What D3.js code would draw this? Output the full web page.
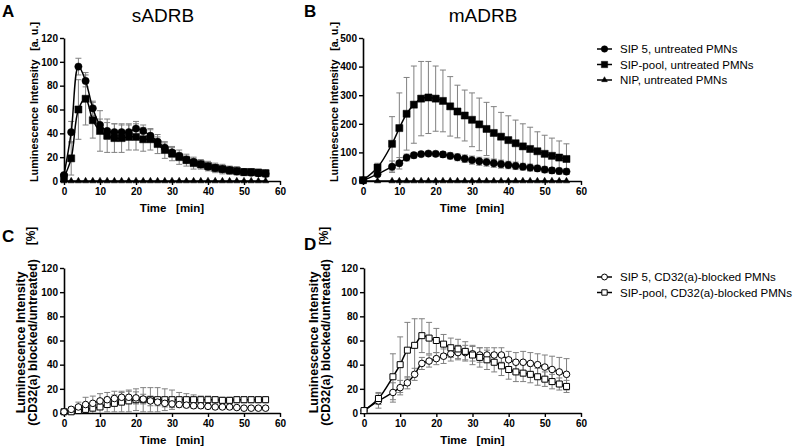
<!DOCTYPE html>
<html><head><meta charset="utf-8">
<script src="https://cdn.jsdelivr.net/npm/d3@7/dist/d3.min.js"></script>
<style>
body{margin:0;background:#fff;}
svg{font-family:"Liberation Sans",Arial,sans-serif;}
text{white-space:pre;}
</style></head>
<body><svg id="c" width="799" height="447"></svg>
<script>
// ---------- data ----------
const timesA = [0,2,4,6,8,10,12,14,16,18,20,22,24,26,28,30,32,34,36,38,40,42,44,46,48,50,52,54,56];
const timesB = [0,4,8,10,12,14,16,18,20,22,24,26,28,30,32,34,36,38,40,42,44,46,48,50,52,54,56];
const xTicks = [0,10,20,30,40,50,60];
const yTicksA = [0,20,40,60,80,100,120];
const yTicksB = [0,100,200,300,400,500];
const yTicksCD = [0,20,40,60,80,100,120];

// panel A (sADRB, untreated)
const sip5A   = [5,41,96,84,61,47,42,41,41,41,44,42,38,33,28,24,21,18,16,14,12,11,10,9,8,7.5,7,6.5,6];
const sdSip5A = [2,9,7,5,6,5,7,7,6,6,6,5,5,4,4,4,3,3,3,3,2.5,2.5,2,2,2,2,1.5,1.5,1.5];
const poolA   = [3,19,60,69,51,42,38,36,36,37,37,35,35,31,26,23,20,17.5,15,14,12.5,11,10,9,8.5,7.5,7.5,7,6.5];
const sdPoolA = [2,14,25,22,15,17,14,12,12,11,11,10,9,8,7,6,6,5,5,4,4,4,4,3.5,3.5,3,3,3,3];
const nipA    = [0,0,0,0,0,0,0,0,0,0,0,0,0,0,0,0,0,0,0,0,0,0,0,0,0,0,0,0,0];

// panel B (mADRB, untreated)
const poolB   = [3,47,130,185,235,267,288,292,288,280,261,243,229,214,198,182,168,155,143,132,121,112,104,95,88,82,77];
const sdPoolB = [3,15,95,123,127,135,130,126,114,108,104,92,89,94,92,93,92,85,85,81,79,76,68,65,62,58,53];
const sip5B   = [2,24,50,62,82,90,94,96,95,93,88,83,78,73,69,66,62,59,56,53,50,47,44,40,37,35,33];
const sdSip5B = [2,8,20,20,12,10,8,8,9,10,11,12,13,14,14,14,14,14,13,13,12,12,11,11,10,10,10];
const nipB    = [0,0,0,0,0,0,0,0,0,0,0,0,0,0,0,0,0,0,0,0,0,0,0,0,0,0,0];

// panel C (sADRB, CD32(a)-blocked / untreated)
const sip5C   = [1,3,5,7,8,10,11,12,13,13,12.5,11.5,10,9,8,7.5,7,6.5,6,6,5.5,5,5,5,4.5,4,4,4,4];
const sdSip5C = [1,2,4,6,6,6,6,6,5,5,5,4,4,3,3,3,2,2,2,2,2,1.5,1.5,1.5,1.5,1.5,1.5,1.5,1.5];
const poolC   = [1,1,2,3,4,5,7,8,9,10,11,11,11,11,11,11,11,11,11,11,11,11,10.5,10.5,11,11,11,11,11];
const sdPoolC = [1,1,2,3,4,5,6,7,8,9,9,10,10,10,9,8,6,5,4,3,3,2.5,2.5,2.5,2.5,2.5,2.5,2.5,2.5];

// panel D (mADRB, CD32(a)-blocked / untreated)
const poolD   = [2,12,30,40,52,56,64,62,60,57,54,53,51,48,46,44,42,39,36,34,33,32,30,28,26,24,22];
const sdPoolD = [2,5,19,23,23,22,14,13,10,8,8,8,8,8,8,8,8,8,8,8,7,7,7,6,6,5,5];
const sip5D   = [2,10,17,21,25,32,41,43,45,47,49,50,50,49,48,48,48,48,44,42,42,41,40,38,36,34,32];
const sdSip5D = [2,6,8,6,5,5,5,5,5,6,6,6,6,6,6,6,6,6,7,8,9,9,9,10,11,12,13];

const legendTop = ["SIP 5, untreated PMNs","SIP-pool, untreated PMNs","NIP, untreated PMNs"];
const legendBottom = ["SIP 5, CD32(a)-blocked PMNs","SIP-pool, CD32(a)-blocked PMNs"];

// ---------- drawing ----------
const svg = d3.select("#c");
const ERR = "#808080";

const symDefs = {
  circle:   {type:d3.symbolCircle, size:42, fill:"#000"},
  square:   {type:d3.symbolSquare, size:50, fill:"#000"},
  triangle: {type:d3.symbolTriangle, size:18, fill:"#000"},
  ocircle:  {type:d3.symbolCircle, size:34, fill:"#fff"},
  osquare:  {type:d3.symbolSquare, size:36, fill:"#fff"}
};

function panel(cfg){
  const x = d3.scaleLinear().domain([0,60]).range(cfg.xr);
  const y = d3.scaleLinear().domain(cfg.yd).range(cfg.yr);
  const g = svg.append("g");

  const ax = g.append("g").attr("transform",`translate(0,${cfg.yr[0]})`)
    .call(d3.axisBottom(x).tickValues(xTicks).tickSize(4).tickSizeOuter(0).tickPadding(3));
  const ay = g.append("g").attr("transform",`translate(${cfg.xr[0]},0)`)
    .call(d3.axisLeft(y).tickValues(cfg.yt).tickSize(4).tickSizeOuter(0).tickPadding(2));
  [ax,ay].forEach(a=>{
    a.select(".domain").attr("stroke","#000").attr("stroke-width",1.6);
    a.selectAll(".tick line").attr("stroke","#000").attr("stroke-width",1.4);
    a.selectAll(".tick text").attr("font-size",10).attr("font-weight","bold").attr("fill","#000")
      .attr("font-family","'Liberation Sans',Arial,sans-serif");
  });

  const line = d3.line().x(d=>x(d[0])).y(d=>y(d[1])).curve(d3.curveCatmullRom.alpha(0.5));

  cfg.series.forEach(s=>{
    if(!s.sd) return;
    s.t.forEach((t,i)=>{
      const v = s.v[i], e = s.sd[i];
      const lo = Math.max(cfg.yd[0], v-e), hi = v+e;
      const xx = x(t);
      g.append("line").attr("x1",xx).attr("x2",xx).attr("y1",y(lo)).attr("y2",y(hi)).attr("stroke",ERR).attr("stroke-width",1);
      g.append("line").attr("x1",xx-3).attr("x2",xx+3).attr("y1",y(hi)).attr("y2",y(hi)).attr("stroke",ERR).attr("stroke-width",1);
      if(v-e>cfg.yd[0]) g.append("line").attr("x1",xx-3).attr("x2",xx+3).attr("y1",y(lo)).attr("y2",y(lo)).attr("stroke",ERR).attr("stroke-width",1);
    });
  });
  cfg.series.forEach(s=>{
    g.append("path").attr("d",line(s.t.map((t,i)=>[t,s.v[i]])))
      .attr("fill","none").attr("stroke","#000").attr("stroke-width",1.5);
  });
  cfg.series.forEach(s=>{
    const sd = symDefs[s.sym];
    g.selectAll(null).data(s.t.map((t,i)=>[t,s.v[i]])).enter().append("path")
      .attr("d",d3.symbol().type(sd.type).size(sd.size))
      .attr("transform",d=>`translate(${x(d[0])},${y(d[1])})`)
      .attr("fill",sd.fill).attr("stroke","#000").attr("stroke-width",sd.fill==="#fff"?1:0.5);
  });

  g.append("text").attr("x",cfg.lx).attr("y",cfg.ly).text(cfg.letter)
    .attr("font-size",17).attr("font-weight","bold");
  if(cfg.title) g.append("text").attr("x",cfg.tx).attr("y",22).attr("text-anchor","middle")
    .attr("font-size",19).text(cfg.title);
  g.append("text").attr("x",(cfg.xr[0]+cfg.xr[1])/2).attr("y",cfg.yr[0]+31)
    .attr("text-anchor","middle").attr("font-size",11.5).attr("font-weight","bold").text("Time   [min]");
  const yc = cfg.ytx;
  if(cfg.twoLine){
    const cy = (cfg.yr[0]+cfg.yr[1])/2 + 2;
    g.append("text").attr("transform",`translate(${yc},${cy}) rotate(-90)`).attr("text-anchor","middle")
      .attr("font-size",12.5).attr("font-weight","bold").text("Luminescence Intensity");
    g.append("text").attr("transform",`translate(${yc+12},${cy}) rotate(-90)`).attr("text-anchor","middle")
      .attr("font-size",12.5).attr("font-weight","bold").text("(CD32(a) blocked/untreated)");
    g.append("text").attr("transform",`translate(${yc+10},${cfg.yr[1]-32}) rotate(-90)`).attr("text-anchor","middle")
      .attr("font-size",12).attr("font-weight","bold").text("[%]");
  } else {
    g.append("text").attr("transform",`translate(${yc},${cfg.yr[0]+1}) rotate(-90)`).attr("text-anchor","start")
      .attr("font-size",10.8).attr("font-weight","bold").text("Luminescence Intensity");
    g.append("text").attr("transform",`translate(${yc},${cfg.yr[1]-16}) rotate(-90)`).attr("text-anchor","end")
      .attr("font-size",10.8).attr("font-weight","bold").text("[a. u.]");
  }
}

panel({letter:"A", lx:2, ly:17, title:"sADRB", tx:163, xr:[64,280], yr:[181,38], yd:[0,120], yt:yTicksA, ytx:38,
  series:[
    {t:timesA, v:nipA, sym:"triangle"},
    {t:timesA, v:poolA, sd:sdPoolA, sym:"square"},
    {t:timesA, v:sip5A, sd:sdSip5A, sym:"circle"}
  ]});
panel({letter:"B", lx:304, ly:17, title:"mADRB", tx:483, xr:[363,581], yr:[181,38], yd:[0,500], yt:yTicksB, ytx:338,
  series:[
    {t:timesB, v:nipB, sym:"triangle"},
    {t:timesB, v:sip5B, sd:sdSip5B, sym:"circle"},
    {t:timesB, v:poolB, sd:sdPoolB, sym:"square"}
  ]});
panel({letter:"C", lx:2, ly:242, xr:[64,280], yr:[413,268], yd:[0,120], yt:yTicksCD, ytx:25, twoLine:true,
  series:[
    {t:timesA, v:poolC, sd:sdPoolC, sym:"osquare"},
    {t:timesA, v:sip5C, sd:sdSip5C, sym:"ocircle"}
  ]});
panel({letter:"D", lx:304, ly:250, xr:[364,581], yr:[413,268], yd:[0,120], yt:yTicksCD, ytx:318, twoLine:true,
  series:[
    {t:timesB, v:sip5D, sd:sdSip5D, sym:"ocircle"},
    {t:timesB, v:poolD, sd:sdPoolD, sym:"osquare"}
  ]});

function legend(items, syms, y0){
  items.forEach((lab,i)=>{
    const yy = y0 + i*15.5;
    const lg = svg.append("g");
    lg.append("line").attr("x1",597).attr("x2",612).attr("y1",yy).attr("y2",yy).attr("stroke","#000").attr("stroke-width",1.5);
    const sd = symDefs[syms[i]];
    lg.append("path").attr("d",d3.symbol().type(sd.type).size(sd.size*0.8)).attr("transform",`translate(604.5,${yy})`)
      .attr("fill",sd.fill).attr("stroke","#000").attr("stroke-width",sd.fill==="#fff"?1:0.5);
    lg.append("text").attr("x",620).attr("y",yy+4).attr("font-size",11.5).text(lab);
  });
}
legend(legendTop, ["circle","square","triangle"], 49);
legend(legendBottom, ["ocircle","osquare"], 277);
</script></body></html>
